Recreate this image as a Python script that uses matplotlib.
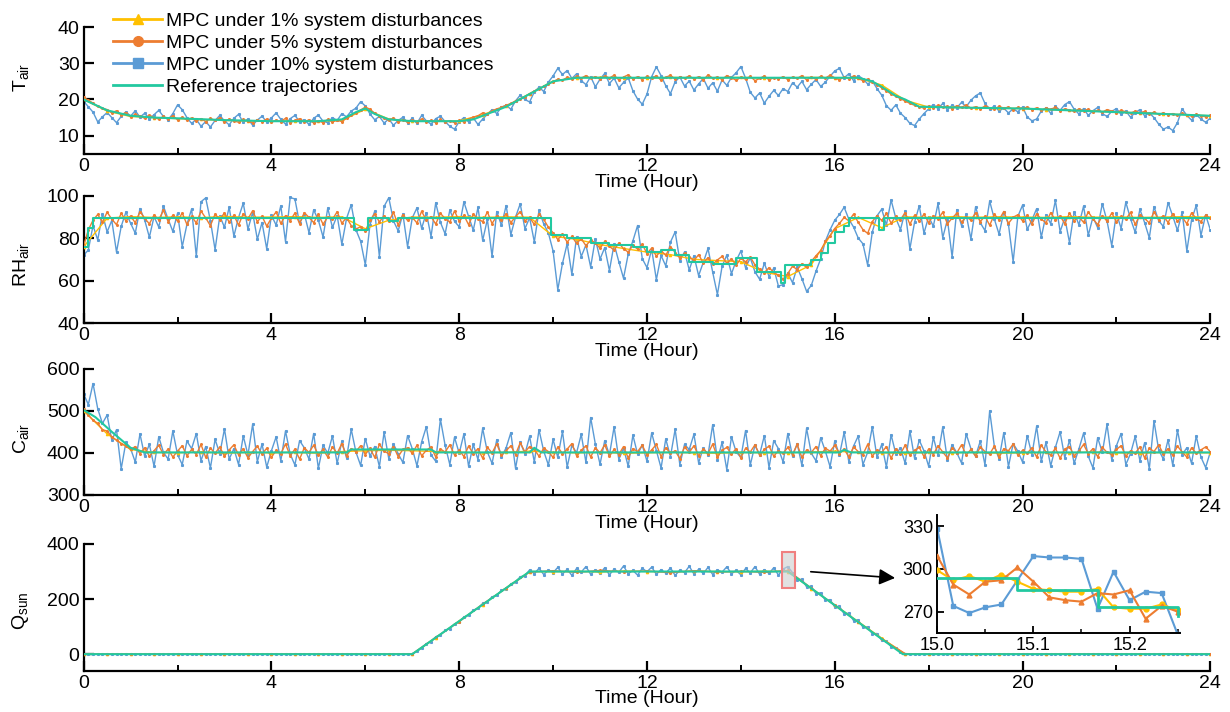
import numpy as np
import matplotlib
matplotlib.use("Agg")
import matplotlib.pyplot as plt
from matplotlib.lines import Line2D
from matplotlib.patches import Rectangle
from matplotlib.ticker import MultipleLocator

plt.rcParams['font.family'] = ['Liberation Sans', 'DejaVu Sans']
plt.rcParams['mathtext.fontset'] = 'custom'
plt.rcParams['mathtext.rm'] = 'Liberation Sans'
plt.rcParams['mathtext.it'] = 'Liberation Sans:italic'
plt.rcParams['font.size'] = 14

YELLOW = '#FFC000'
ORANGE = '#ED7D31'
BLUE = '#5B9BD5'
GREEN = '#22C9A0'

# sample times (hours): 6-minute samples and half-hour samples
hours_fine = np.linspace(0, 24, 241)
hours_coarse = np.linspace(0, 24, 49)

# ---- air temperature ----
t_blue = [
    19.5, 18.0, 16.5, 13.8, 15.2, 16.4, 15.0, 13.6, 15.3, 16.6,
    15.4, 16.9, 15.1, 16.2, 14.6, 15.8, 17.0, 15.3, 14.4, 16.1,
    18.5, 17.2, 15.0, 13.4, 14.5, 12.6, 13.9, 12.4, 14.2, 15.6,
    14.1, 13.0, 14.8, 15.9, 13.7, 14.6, 12.9, 14.3, 15.4, 13.8,
    14.9, 16.3, 14.5, 13.2, 14.7, 15.6, 13.9, 14.4, 13.1, 14.8,
    15.7, 14.0, 13.6, 15.0, 14.2, 16.1, 15.2, 16.8, 17.6, 19.4,
    18.2, 16.0, 14.4, 15.3, 13.5, 14.6, 12.9, 14.2, 15.1, 13.6,
    14.8, 13.4, 15.6, 14.1, 13.2, 14.7, 15.4, 13.9, 12.6, 11.8,
    13.9, 15.0, 13.8, 14.9, 13.1, 14.6, 15.9, 17.2, 16.1, 17.9,
    18.4, 17.3, 19.6, 21.2, 20.0, 19.3, 22.1, 23.4, 22.2, 24.8,
    26.5, 28.6, 26.9, 28.0, 25.8, 27.1, 25.2, 24.1, 26.3, 23.5,
    25.6, 27.2, 24.4, 25.9, 23.2, 24.7, 26.0, 22.4, 20.1, 18.7,
    21.5, 26.3, 29.0, 26.6, 23.8, 21.6, 24.9, 26.2, 23.7, 25.1,
    22.6, 24.3, 25.8, 23.1, 24.6, 22.3, 25.4, 23.9, 26.1, 27.4,
    29.1, 25.9, 22.0, 20.4, 21.8, 19.0, 20.9, 22.5, 21.1, 23.0,
    22.2, 24.6, 23.4, 25.0, 22.7, 24.2, 25.5, 23.6, 24.8, 26.4,
    27.9, 28.6, 26.0, 27.1, 25.2, 26.6, 25.7, 24.3, 25.1, 23.0,
    21.2, 18.3, 17.0, 18.5, 16.2, 15.0, 13.4, 12.8, 14.6, 16.1,
    17.4, 18.6, 17.5, 18.9, 17.2, 18.4, 17.7, 19.2, 18.0, 19.8,
    21.0, 21.8, 18.9, 17.3, 18.2, 16.8, 17.6, 16.3, 17.4, 16.6,
    17.9, 15.2, 14.1, 14.6, 16.8, 17.7, 16.2, 18.1, 17.0, 18.6,
    19.4, 17.3, 16.0, 17.5, 15.6, 16.9, 17.8, 16.1, 15.3, 16.7,
    17.5, 15.9, 16.8, 15.1, 16.4, 17.2, 15.5, 16.3, 15.0, 13.2,
    11.8, 12.4, 11.4, 13.6, 17.4, 15.6, 14.3, 15.8, 14.6, 13.7,
    14.9,
]
t_orange = [
    20.6, 19.8, 19.0, 18.1, 17.6, 17.2, 16.3, 16.9, 15.8, 16.4,
    15.2, 15.9, 15.4, 14.8, 15.7, 15.0, 14.6, 15.3, 14.7, 15.5,
    14.4, 15.1, 14.3, 14.9, 14.0, 14.7, 13.9, 14.8, 14.2, 15.0,
    13.8, 14.6, 14.1, 13.7, 14.5, 14.0, 13.6, 14.4, 13.9, 14.6,
    13.7, 14.3, 13.9, 14.8, 13.6, 14.2, 14.7, 13.8, 14.4, 13.5,
    14.1, 13.6, 14.5, 13.8, 14.3, 13.9, 14.8, 15.6, 16.4, 17.1,
    17.9, 17.3, 16.2, 15.4, 14.8, 14.2, 14.9, 13.8, 14.4, 13.7,
    14.3, 13.8, 14.6, 13.9, 14.2, 13.6, 14.5, 13.7, 14.1, 13.6,
    14.2, 13.8, 14.6, 15.1, 15.5, 16.3, 16.0, 16.9, 17.4, 17.8,
    18.4, 18.9, 19.6, 20.2, 20.8, 21.6, 22.3, 22.9, 23.6, 24.2,
    24.9, 25.6, 25.3, 26.1, 25.7, 26.4, 25.9, 26.6, 25.8, 26.3,
    25.6, 26.5, 25.9, 26.7, 25.4, 26.2, 26.8, 25.7, 26.3, 25.5,
    26.4, 25.8, 26.6, 25.3, 26.1, 26.7, 25.6, 26.2, 25.9, 26.5,
    25.7, 26.3, 25.4, 26.8, 25.9, 26.2, 25.5, 26.6, 26.0, 25.3,
    26.1, 25.6, 26.4, 25.2, 25.8, 26.5, 25.4, 26.0, 25.7, 26.3,
    25.5, 26.2, 25.8, 26.6, 25.4, 26.1, 25.6, 26.4, 25.9, 26.7,
    26.0, 25.4, 26.3, 25.7, 26.5, 25.8, 25.2, 25.6, 24.9, 24.1,
    23.2, 22.4, 21.5, 20.9, 20.2, 19.6, 18.9, 18.4, 18.0, 17.6,
    18.2, 17.7, 18.4, 17.9, 18.1, 17.5, 18.3, 17.8, 18.5, 17.6,
    18.0, 17.4, 18.2, 17.7, 17.3, 18.1, 17.6, 17.9, 17.2, 17.8,
    17.5, 17.9, 17.2, 17.7, 17.0, 17.6, 17.3, 17.8, 16.9, 17.4,
    17.1, 16.7, 17.4, 16.9, 17.3, 16.6, 17.0, 16.5, 17.2, 16.8,
    16.4, 17.0, 16.6, 16.2, 16.8, 16.3, 16.7, 16.0, 16.5, 15.9,
    16.3, 15.8, 16.1, 15.6, 16.2, 15.7, 15.4, 15.9, 15.5, 15.2,
    15.6,
]
t_yellow = [
    20.0, 16.8, 15.3, 15.0, 14.7, 14.5, 14.2, 14.1, 14.0, 14.1,
    14.0, 14.2, 17.3, 14.6, 14.0, 14.0, 14.1, 15.8, 18.1, 21.6,
    25.1, 26.0, 26.1, 26.0, 25.9, 26.1, 26.0, 26.0, 26.1, 25.9,
    26.0, 26.1, 26.0, 25.9, 24.0, 19.8, 17.9, 17.8, 17.7, 17.6,
    17.5, 17.2, 17.0, 16.8, 16.5, 16.3, 16.0, 15.8, 15.5,
]
t_ref_hours = [0, 0.5, 1, 1.5, 2, 3, 4, 5, 5.5, 5.8, 6, 6.2, 6.5, 7, 8, 8.3,
               9, 9.5, 10, 10.5, 16.5, 16.8, 17, 17.3, 17.5, 17.8, 18.5, 20, 22, 24]
t_ref = [20, 17, 15.5, 15, 14.8, 14.3, 14, 14, 14.5, 16.5, 17.5, 16, 14.5, 14, 14, 14.5,
         18, 21.5, 25, 26, 26, 25, 23.5, 21, 20, 18, 17.8, 17.5, 16.5, 15.5]

# ---- relative humidity ----
rh_blue = [
    72.0, 74.5, 86.0, 79.2, 91.5, 83.0, 88.4, 73.5, 85.6, 92.3,
    87.1, 82.4, 94.0, 88.6, 80.5, 90.2, 85.3, 95.1, 89.0, 83.2,
    91.7, 76.0, 86.5, 93.8, 71.5, 97.2, 99.0, 88.3, 74.6, 90.5,
    85.2, 94.6, 81.0, 89.8, 96.5, 84.3, 92.1, 79.5, 87.4, 75.0,
    90.8, 86.2, 95.3, 78.4, 99.2, 98.5, 87.0, 91.6, 82.7, 93.4,
    88.5, 80.6, 94.2, 85.1, 90.7, 77.2, 89.3, 95.8, 84.0, 78.6,
    67.5, 86.4, 92.7, 71.3, 95.0, 99.1, 88.2, 83.5, 91.4, 76.0,
    89.6, 94.3, 84.7, 92.0, 80.8, 96.7, 87.5, 82.1, 93.2, 88.0,
    85.4, 97.1, 90.3, 83.8, 94.5, 79.0, 88.9, 71.5, 92.6, 86.1,
    95.4, 81.7, 90.0, 96.2, 84.5, 89.7, 78.3, 93.1, 86.8, 82.5,
    74.0, 55.8, 68.2, 77.5, 63.0, 80.6, 71.4, 76.9, 66.5, 79.8,
    70.2, 75.6, 64.8, 77.3, 69.0, 61.2, 72.5, 78.8, 86.0, 70.4,
    66.2, 74.8, 60.5, 71.9, 67.0, 78.2, 83.0, 69.4, 73.6, 65.1,
    71.8, 62.4, 68.7, 75.2, 64.0, 53.5, 66.8, 72.1, 63.3, 69.5,
    74.0, 66.1, 70.8, 64.2, 60.7, 68.3, 62.0, 65.9, 57.5, 58.2,
    63.6, 59.1, 66.4, 61.0, 55.0, 57.8, 64.5, 70.3, 78.6, 84.0,
    88.5, 91.2, 94.6, 89.0, 85.3, 80.1, 77.4, 67.4, 83.0, 90.6,
    93.7, 86.2, 98.0, 89.5, 84.1, 92.8, 75.0, 87.6, 95.3, 82.4,
    90.1, 85.7, 96.4, 80.3, 88.8, 71.2, 93.5, 86.0, 91.2, 79.6,
    94.8, 87.3, 83.6, 97.5, 89.0, 81.9, 92.4, 86.5, 69.0, 90.3,
    95.6, 84.2, 88.7, 93.9, 80.5, 91.1, 86.9, 97.8, 83.1, 89.6,
    78.0, 92.5, 86.3, 95.1, 81.4, 90.0, 85.0, 96.3, 88.1, 76.5,
    91.8, 84.6, 97.0, 89.2, 82.8, 93.6, 87.4, 80.2, 94.9, 88.3,
    85.5, 96.8, 90.4, 83.7, 92.2, 74.0, 88.6, 95.5, 81.3, 91.0,
    84.0,
]
rh_orange = [
    76.5, 84.0, 88.5, 91.2, 87.6, 92.3, 89.0, 86.4, 91.8, 88.2,
    90.5, 87.3, 92.6, 89.4, 86.8, 91.0, 88.7, 93.2, 87.9, 90.8,
    88.1, 91.9, 86.5, 90.3, 87.2, 92.8, 89.6, 85.9, 91.4, 88.8,
    92.0, 87.5, 90.9, 86.2, 91.6, 89.1, 93.0, 87.8, 90.4, 85.7,
    89.5, 92.4, 87.0, 90.7, 88.3, 91.9, 86.9, 92.1, 89.8, 87.4,
    91.3, 86.6, 90.0, 88.9, 92.5, 87.1, 89.7, 86.0, 84.3, 85.5,
    83.2, 88.6, 91.5, 87.7, 90.6, 88.0, 92.2, 86.3, 91.1, 88.4,
    89.9, 87.2, 92.7, 88.5, 90.2, 86.7, 91.7, 89.3, 87.6, 92.9,
    88.0, 90.8, 86.4, 91.3, 89.2, 87.8, 92.4, 86.9, 90.5, 88.6,
    91.6, 87.4, 90.1, 92.6, 88.3, 89.8, 86.5, 91.2, 88.9, 85.2,
    82.6, 79.4, 81.8, 78.2, 80.9, 77.6, 79.8, 76.5, 79.1, 77.9,
    75.3, 78.6, 76.2, 74.4, 77.8, 75.1, 73.5, 76.7, 74.9, 77.2,
    72.8, 75.4, 71.6, 74.2, 72.0, 76.1, 73.3, 70.8, 72.9, 71.4,
    69.5, 72.3, 68.4, 70.9, 67.7, 69.8, 71.5, 68.2, 70.4, 67.3,
    70.6, 68.9, 71.2, 67.5, 65.4, 63.8, 66.2, 64.0, 62.5, 60.8,
    63.4, 66.9, 65.2, 68.0, 66.3, 69.1, 71.8, 74.2, 78.5, 81.3,
    84.6, 87.0, 89.8, 88.2, 91.4, 87.5, 84.1, 82.3, 87.9, 90.6,
    88.4, 91.7, 87.1, 90.3, 88.8, 92.1, 86.6, 90.9, 88.0, 91.4,
    87.3, 90.7, 88.9, 92.3, 86.8, 89.5, 91.8, 87.6, 90.2, 88.5,
    92.0, 87.9, 90.4, 86.1, 91.3, 88.7, 92.6, 87.0, 89.9, 91.1,
    88.2, 90.9, 86.7, 91.5, 89.0, 87.3, 92.1, 88.6, 90.5, 86.9,
    91.8, 88.3, 90.1, 87.5, 92.4, 89.2, 86.4, 90.7, 88.0, 91.9,
    87.7, 90.3, 88.9, 92.2, 86.5, 91.0, 89.4, 87.2, 92.5, 88.8,
    90.6, 87.4, 91.6, 88.1, 90.0, 86.8, 92.0, 89.3, 87.9, 90.8,
    89.5,
]
rh_yellow = [
    76.0, 89.5, 90.2, 89.8, 90.1, 89.7, 90.3, 89.9, 90.0, 90.2,
    89.8, 90.1, 84.5, 88.5, 90.0, 89.9, 90.2, 89.8, 90.1, 89.9,
    81.0, 79.5, 77.0, 75.2, 73.5, 72.3, 70.1, 69.5, 69.0, 64.0,
    62.0, 67.5, 84.5, 89.8, 85.0, 90.1, 89.8, 90.2, 89.9, 90.1,
    90.0, 89.8, 90.2, 89.9, 90.1, 89.8, 90.0, 90.2, 89.9,
]
rh_ref_hours = [0, 0.1, 0.2, 5.75, 6.05, 6.5, 6.7, 9.95, 10.3, 10.8, 11.2, 11.7, 12.0,
                12.3, 12.6, 12.9, 13.4, 13.9, 14.35, 14.85, 14.95, 15.5, 15.7, 15.85,
                16.0, 16.2, 16.3, 16.95, 17.05, 24]
rh_ref = [76, 85, 89.6, 84, 89.6, 88, 89.6, 81.4, 80, 78, 77, 76, 73.5,
          74.5, 72, 69, 68, 70.5, 64, 59, 67.5, 70, 73, 78,
          83, 86, 89.6, 84, 89.6, 89.6]

# ---- CO2 concentration ----
c_blue = [
    540, 515, 565, 505, 470, 490, 430, 455, 362, 425,
    410, 378, 445, 392, 420, 368, 438, 401, 385, 452,
    396, 372, 428, 410, 446, 381, 415, 364, 432, 398,
    457, 385, 410, 372, 440, 395, 468, 379, 421, 366,
    405, 438, 381, 452, 397, 371, 429, 412, 385, 446,
    363, 418, 399, 440, 375, 427, 388, 456, 402, 370,
    434, 392, 415, 367, 449, 386, 421, 398, 377, 441,
    410, 369, 426, 462, 395, 380, 480, 418, 372, 437,
    399, 445, 368, 420, 384, 458, 402, 375, 431, 390,
    412, 448, 363, 426, 397, 439, 378, 455, 404, 371,
    432, 389, 451, 366, 418, 400, 444, 377, 484, 421,
    373, 429, 395, 462, 384, 411, 368, 442, 397, 418,
    380, 447, 405, 364, 433, 391, 456, 372, 420, 408,
    444, 376, 412, 395, 467, 383, 425, 360, 438, 402,
    389, 453, 371, 418, 396, 441, 365, 429, 410, 378,
    446, 392, 422, 370, 458, 399, 381, 436, 404, 367,
    428, 395, 449, 378, 416, 440, 372, 401, 462, 389,
    420, 366, 443, 398, 411, 375, 452, 387, 430, 405,
    368, 437, 394, 461, 382, 419, 400, 376, 445, 410,
    392, 428, 371, 500, 415, 386, 448, 367, 422, 404,
    378, 441, 396, 463, 380, 425, 369, 413, 450, 388,
    430, 375, 409, 447, 392, 364, 436, 401, 468, 383,
    417, 446, 372, 398, 439, 381, 424, 362, 476, 407,
    385, 431, 370, 454, 396, 412, 375, 440, 390, 365,
    402,
]
c_orange = [
    505, 490, 478, 470, 455, 452, 438, 430, 422, 417,
    408, 415, 398, 412, 392, 405, 418, 396, 409, 390,
    404, 417, 393, 408, 396, 420, 389, 411, 399, 414,
    392, 407, 419, 395, 410, 388, 403, 416, 397, 411,
    389, 406, 398, 421, 393, 409, 385, 412, 401, 418,
    395, 408, 390, 414, 399, 422, 392, 410, 403, 417,
    396, 411, 389, 420, 404, 398, 415, 391, 408, 412,
    399, 418, 393, 406, 414, 390, 409, 402, 419, 395,
    407, 391, 416, 398, 410, 387, 413, 400, 421, 394,
    405, 417, 396, 424, 402, 415, 408, 392, 411, 403,
    389, 414, 398, 409, 422, 393, 406, 417, 390, 412,
    400, 419, 392, 408, 396, 415, 388, 410, 403, 418,
    395, 407, 420, 391, 412, 399, 405, 386, 414, 401,
    417, 393, 409, 398, 421, 390, 406, 413, 397, 410,
    388, 411, 402, 419, 394, 408, 416, 392, 405, 399,
    413, 396, 420, 389, 407, 401, 415, 393, 411, 404,
    418, 398, 409, 390, 414, 403, 396, 420, 392, 407,
    401, 415, 387, 410, 398, 418, 394, 406, 413, 391,
    409, 396, 417, 402, 388, 412, 400, 419, 395, 408,
    392, 414, 403, 397, 416, 389, 410, 405, 421, 394,
    406, 399, 412, 390, 418, 402, 395, 411, 387, 409,
    415, 393, 404, 420, 398, 410, 391, 413, 401, 396,
    408, 417, 392, 405, 399, 414, 388, 411, 403, 419,
    397, 410, 394, 416, 402, 390, 412, 399, 407, 414,
    403,
]
c_yellow = [
    500, 445, 408, 401, 400, 402, 399, 401, 400, 401,
    399, 403, 405, 406, 405, 403, 401, 400, 401, 404,
    401, 400, 401, 399, 400, 401, 400, 399, 401, 400,
    400, 402, 404, 401, 400, 399, 401, 400, 401, 399,
    400, 401, 400, 402, 400, 399, 401, 400, 400,
]
c_ref_hours = [0, 0.25, 0.6, 1.0, 1.3, 5.6, 5.7, 7.4, 7.5, 9.5, 9.6, 9.75,
               16.1, 16.2, 16.35, 24]
c_ref = [502, 485, 450, 412, 401, 401, 408, 408, 401, 401, 412, 401,
         401, 407, 401, 401]

# ---- solar radiation ----
q_blue = [0.0] * 70 + [
    2, 10, 22, 38, 45, 63, 70, 86, 93, 110,
    118, 135, 142, 160, 166, 184, 190, 208, 213, 232,
    238, 255, 262, 281, 285, 306, 292, 312, 289, 305,
    296, 315, 291, 308, 286, 311, 298, 318, 290, 306,
    293, 314, 288, 309, 297, 320, 292, 304, 287, 312,
    299, 316, 290, 307, 294, 313, 286, 305, 296, 319,
    291, 308, 293, 315, 289, 306, 298, 317, 292, 304,
    288, 311, 295, 318, 290, 307, 293, 314, 287, 309,
    318, 296, 270, 272, 244, 246, 220, 223, 195, 198,
    171, 174, 146, 149, 122, 124, 98, 99, 74, 75,
    50, 48, 27, 22, 8, 2, 0, 0,
] + [0.0] * 63
q_orange = [0.0] * 14 + [
    1, 61, 118, 182, 239, 298, 303, 297, 304, 299, 302,
    296, 303, 298, 301, 297, 304, 240, 177, 116, 56, 2,
] + [0.0] * 13
q_yellow = [0.0] * 14 + [
    0, 59, 121, 179, 241, 300, 299, 301, 298, 302, 300,
    299, 301, 300, 299, 301, 300, 238, 179, 118, 58, 0,
] + [0.0] * 13
q_ref_hours = [0, 7.0, 9.5, 15.0, 17.45, 24]
q_ref = [0, 0, 300, 300, 0, 0]

# zoomed window 15.00-15.25 h, one sample per minute
zoom_hours = np.linspace(15.0, 15.25, 16)
zoom_blue = [328, 274, 269, 273, 275, 292, 309, 308, 308, 307, 272, 298, 278, 284, 283, 254]
zoom_orange = [309, 289, 282, 291, 292, 301, 291, 280, 278, 277, 283, 282, 285, 265, 274, 270]
zoom_yellow = [299, 292, 295, 291, 296, 291, 286, 285, 284, 284, 286, 273, 272, 272, 275, 271]
zoom_ref_hours = [15.0, 15.0833, 15.1667, 15.25, 15.25]
zoom_ref = [293.5, 285, 273, 273, 267]

labels = ['MPC under 1% system disturbances', 'MPC under 5% system disturbances',
          'MPC under 10% system disturbances', 'Reference trajectories']


def style_axis(ax, ylim, yticks, ylabel, label_y):
    ax.set_xlim(0, 24)
    ax.set_ylim(*ylim)
    ax.set_xticks(range(0, 25, 4))
    ax.xaxis.set_minor_locator(MultipleLocator(2))
    ax.set_yticks(yticks)
    for side in ['top', 'right']:
        ax.spines[side].set_visible(False)
    for side in ['left', 'bottom']:
        ax.spines[side].set_linewidth(1.6)
    ax.tick_params(which='major', direction='in', length=7, width=1.6, pad=3)
    ax.tick_params(which='minor', direction='in', length=4, width=1.4)
    ax.set_xlabel('Time (Hour)', labelpad=-1)
    ax.set_ylabel(ylabel)
    ax.yaxis.set_label_coords(-0.047, label_y)
    ax.patch.set_alpha(0)


def draw_series(ax, blue, orange, orange_t, yellow, ref_t, ref, ref_style='default'):
    ax.plot(hours_fine, blue, color=BLUE, lw=1.0, marker='s', ms=1.2, zorder=2)
    ax.plot(hours_coarse, yellow, color=YELLOW, lw=1.0, marker='^', ms=1.6, zorder=3)
    ax.plot(orange_t, orange, color=ORANGE, lw=1.0, marker='o', ms=1.2, zorder=4)
    ax.plot(ref_t, ref, color=GREEN, lw=1.5, drawstyle=ref_style, zorder=5)


fig = plt.figure(figsize=(12.3, 7.12), dpi=100)
left, width = 0.068, 0.916
ax1 = fig.add_axes([left, 0.784, width, 0.178])
ax2 = fig.add_axes([left, 0.546, width, 0.179])
ax3 = fig.add_axes([left, 0.305, width, 0.177])
ax4 = fig.add_axes([left, 0.058, width, 0.178])

draw_series(ax1, t_blue, t_orange, hours_fine, t_yellow, t_ref_hours, t_ref)
style_axis(ax1, (5, 40), [10, 20, 30, 40], r'T$_{\mathrm{air}}$', 0.6)

draw_series(ax2, rh_blue, rh_orange, hours_fine, rh_yellow, rh_ref_hours, rh_ref, 'steps-post')
style_axis(ax2, (40, 100), [40, 60, 80, 100], r'RH$_{\mathrm{air}}$', 0.46)

draw_series(ax3, c_blue, c_orange, hours_fine, c_yellow, c_ref_hours, c_ref)
style_axis(ax3, (300, 600), [300, 400, 500, 600], r'C$_{\mathrm{air}}$', 0.45)

draw_series(ax4, q_blue, q_orange, hours_coarse, q_yellow, q_ref_hours, q_ref)
style_axis(ax4, (-60, 400), [0, 200, 400], r'Q$_{\mathrm{sun}}$', 0.47)

# highlighted window and pointer to the zoomed view
ax4.add_patch(Rectangle((14.88, 239), 0.28, 132, facecolor=(0.82, 0.82, 0.82, 0.65),
                        edgecolor='#F08080', lw=1.5, zorder=6))
ax4.annotate('', xy=(0.730, 0.188), xycoords='figure fraction',
             xytext=(15.43, 300), textcoords='data', annotation_clip=False,
             arrowprops=dict(arrowstyle='-|>', color='k', lw=1.2, mutation_scale=24))

ins = fig.add_axes([0.762, 0.111, 0.197, 0.166])
ins.plot(zoom_hours, zoom_blue, color=BLUE, lw=1.5, marker='s', ms=3.5, zorder=2)
ins.plot(zoom_hours, zoom_yellow, color=YELLOW, lw=1.5, marker='o', ms=3.5, zorder=3)
ins.plot(zoom_hours, zoom_orange, color=ORANGE, lw=1.5, marker='^', ms=3.5, zorder=4)
ins.plot(zoom_ref_hours, zoom_ref, color=GREEN, lw=2, drawstyle='steps-post', zorder=5)
ins.set_xlim(15.0, 15.252)
ins.set_ylim(255, 338)
ins.set_xticks([15.0, 15.1, 15.2])
ins.set_xticklabels(['15.0', '15.1', '15.2'])
ins.xaxis.set_minor_locator(MultipleLocator(0.05))
ins.set_yticks([270, 300, 330])
for side in ['top', 'right']:
    ins.spines[side].set_visible(False)
for side in ['left', 'bottom']:
    ins.spines[side].set_linewidth(1.4)
ins.tick_params(which='major', direction='in', length=5, width=1.3, labelsize=13, pad=3)
ins.tick_params(which='minor', direction='in', length=3, width=1.1)

handles = [
    Line2D([], [], color=YELLOW, lw=2, marker='^', ms=7),
    Line2D([], [], color=ORANGE, lw=2, marker='o', ms=7),
    Line2D([], [], color=BLUE, lw=2, marker='s', ms=7),
    Line2D([], [], color=GREEN, lw=2),
]
fig.legend(handles, labels, loc='upper left', bbox_to_anchor=(0.089, 0.988),
           frameon=False, handlelength=2.5, handletextpad=0.2, labelspacing=0.22,
           borderaxespad=0, borderpad=0.2, fontsize=14)

fig.savefig('out.png', dpi=100)
